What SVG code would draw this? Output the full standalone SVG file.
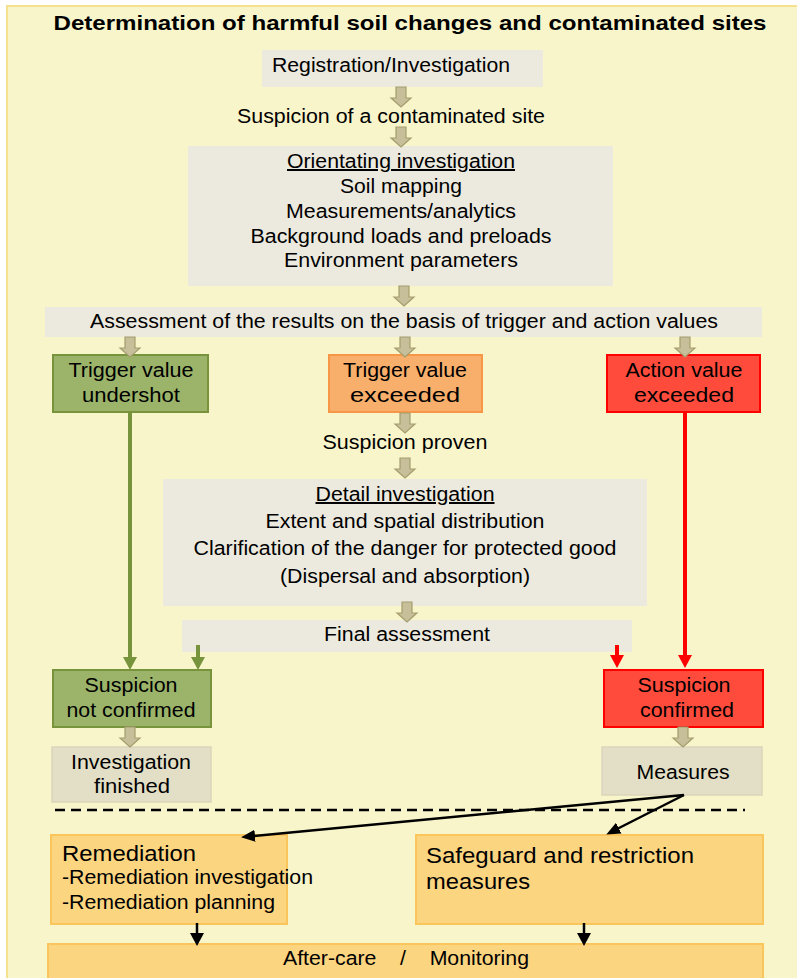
<svg xmlns="http://www.w3.org/2000/svg" width="797" height="978" viewBox="0 0 797 978">
<defs>
<style>
text{font-family:"Liberation Sans",Arial,sans-serif;font-size:20px;fill:#000;}
.c{text-anchor:middle;}
.t{font-weight:bold;font-size:21px;}
.big{font-size:22px;}
.u{text-decoration:underline;}
.gray{fill:#ECEADF;}
.fin{fill:#E3DFC6;stroke:#DAD5BA;stroke-width:1.5;}
.green{fill:#9BB46A;stroke:#77933C;stroke-width:2;}
.orange{fill:#F7AF6B;stroke:#F79646;stroke-width:2;}
.red{fill:#FF4B3C;stroke:#FF0000;stroke-width:2;}
.peach{fill:#FCD581;stroke:#FAC65C;stroke-width:2;}
.blk{fill:#C6BF99;stroke:#A59D6E;stroke-width:1.2;}
.gl{stroke:#77933C;stroke-width:4;fill:none;}
.rl{stroke:#FF0000;stroke-width:4;fill:none;}
.bl{stroke:#000;stroke-width:2.5;fill:none;}
</style>
<path id="ka" class="blk" d="M-5,0 H5 V11 H10 L0,20 L-10,11 H-5 Z"/>
<marker id="mg" markerWidth="16" markerHeight="16" refX="2" refY="8" orient="auto" markerUnits="userSpaceOnUse"><path d="M0,1 L13,8 L0,15 Z" fill="#77933C"/></marker>
<marker id="mr" markerWidth="16" markerHeight="16" refX="2" refY="8" orient="auto" markerUnits="userSpaceOnUse"><path d="M0,1 L13,8 L0,15 Z" fill="#FF0000"/></marker>
<marker id="mb" markerWidth="18" markerHeight="14" refX="2" refY="7" orient="auto" markerUnits="userSpaceOnUse"><path d="M0,1 L14,7 L0,13 Z" fill="#000"/></marker>
<marker id="md" markerWidth="16" markerHeight="16" refX="2" refY="7" orient="auto" markerUnits="userSpaceOnUse"><path d="M0,0 L13,7 L0,14 Z" fill="#000"/></marker>
</defs>

<rect id="frame" x="7" y="6" width="800" height="980" fill="#F8F5CB" stroke="#F6E28E" stroke-width="2"/>
<text class="c t" x="410" y="30" textLength="713" lengthAdjust="spacingAndGlyphs">Determination of harmful soil changes and contaminated sites</text>

<g id="registration">
<rect class="gray" x="262" y="50" width="281" height="37"/>
<text class="c" x="391" y="72" textLength="238" lengthAdjust="spacingAndGlyphs">Registration/Investigation</text>
</g>
<g id="suspicion-site">
<text class="c" x="391" y="123" textLength="308" lengthAdjust="spacingAndGlyphs">Suspicion of a contaminated site</text>
</g>
<g id="orientating">
<rect class="gray" x="188" y="146" width="425" height="140"/>
<text class="c u" x="401" y="168" textLength="228" lengthAdjust="spacingAndGlyphs">Orientating investigation</text>
<text class="c" x="401" y="193" textLength="122" lengthAdjust="spacingAndGlyphs">Soil mapping</text>
<text class="c" x="401" y="218" textLength="230" lengthAdjust="spacingAndGlyphs">Measurements/analytics</text>
<text class="c" x="401" y="243" textLength="301" lengthAdjust="spacingAndGlyphs">Background loads and preloads</text>
<text class="c" x="401" y="267" textLength="234" lengthAdjust="spacingAndGlyphs">Environment parameters</text>
</g>
<g id="assessment">
<rect class="gray" x="45" y="307" width="717" height="30"/>
<text class="c" x="404" y="328" textLength="628" lengthAdjust="spacingAndGlyphs">Assessment of the results on the basis of trigger and action values</text>
</g>
<g id="trigger-undershot">
<rect class="green" x="53" y="355" width="155" height="57"/>
<text class="c" x="131" y="377" textLength="125" lengthAdjust="spacingAndGlyphs">Trigger value</text>
<text class="c" x="131" y="402" textLength="98" lengthAdjust="spacingAndGlyphs">undershot</text>
</g>
<g id="trigger-exceeded">
<rect class="orange" x="329" y="355" width="153" height="57"/>
<text class="c" x="405" y="377" textLength="124" lengthAdjust="spacingAndGlyphs">Trigger value</text>
<text class="c" x="405" y="402" textLength="110" lengthAdjust="spacingAndGlyphs">exceeded</text>
</g>
<g id="action-exceeded">
<rect class="red" x="607" y="355" width="153" height="57"/>
<text class="c" x="684" y="377" textLength="117" lengthAdjust="spacingAndGlyphs">Action value</text>
<text class="c" x="684" y="402" textLength="100" lengthAdjust="spacingAndGlyphs">exceeded</text>
</g>
<g id="suspicion-proven">
<text class="c" x="405" y="449" textLength="165" lengthAdjust="spacingAndGlyphs">Suspicion proven</text>
</g>
<g id="detail">
<rect class="gray" x="163" y="479" width="484" height="127"/>
<text class="c u" x="405" y="501" textLength="179" lengthAdjust="spacingAndGlyphs">Detail investigation</text>
<text class="c" x="405" y="528" textLength="279" lengthAdjust="spacingAndGlyphs">Extent and spatial distribution</text>
<text class="c" x="405" y="555" textLength="423" lengthAdjust="spacingAndGlyphs">Clarification of the danger for protected good</text>
<text class="c" x="405" y="583" textLength="250" lengthAdjust="spacingAndGlyphs">(Dispersal and absorption)</text>
</g>
<g id="final">
<rect class="gray" x="182" y="620" width="450" height="32"/>
<text class="c" x="407" y="641" textLength="166" lengthAdjust="spacingAndGlyphs">Final assessment</text>
</g>
<g id="not-confirmed">
<rect class="green" x="53" y="670" width="158" height="57"/>
<text class="c" x="131" y="692" textLength="93" lengthAdjust="spacingAndGlyphs">Suspicion</text>
<text class="c" x="131" y="717" textLength="129" lengthAdjust="spacingAndGlyphs">not confirmed</text>
</g>
<g id="confirmed">
<rect class="red" x="604" y="670" width="159" height="57"/>
<text class="c" x="684" y="692" textLength="93" lengthAdjust="spacingAndGlyphs">Suspicion</text>
<text class="c" x="687" y="717" textLength="94" lengthAdjust="spacingAndGlyphs">confirmed</text>
</g>
<g id="investigation-finished">
<rect class="fin" x="52" y="747" width="159" height="55"/>
<text class="c" x="131" y="769" textLength="120" lengthAdjust="spacingAndGlyphs">Investigation</text>
<text class="c" x="132" y="793" textLength="76" lengthAdjust="spacingAndGlyphs">finished</text>
</g>
<g id="measures">
<rect class="fin" x="602" y="747" width="160" height="48"/>
<text class="c" x="683" y="779" textLength="93" lengthAdjust="spacingAndGlyphs">Measures</text>
</g>
<g id="remediation">
<rect class="peach" x="51" y="835" width="236" height="89"/>
<text class="big" x="62" y="861" textLength="134" lengthAdjust="spacingAndGlyphs">Remediation</text>
<text x="62" y="884" textLength="251" lengthAdjust="spacingAndGlyphs">-Remediation investigation</text>
<text x="62" y="909" textLength="213" lengthAdjust="spacingAndGlyphs">-Remediation planning</text>
</g>
<g id="safeguard">
<rect class="peach" x="416" y="835" width="347" height="89"/>
<text class="big" x="426" y="863" textLength="268" lengthAdjust="spacingAndGlyphs">Safeguard and restriction</text>
<text class="big" x="426" y="889" textLength="104" lengthAdjust="spacingAndGlyphs">measures</text>
</g>
<g id="aftercare">
<rect class="peach" x="48" y="944" width="715" height="40"/>
<text class="c" x="406" y="965" xml:space="preserve" textLength="246" lengthAdjust="spacingAndGlyphs">After-care    /    Monitoring</text>
</g>

<g id="connectors">
<use href="#ka" x="401" y="87"/>
<use href="#ka" x="401" y="127"/>
<use href="#ka" x="404" y="286"/>
<use href="#ka" x="130" y="337"/>
<use href="#ka" x="405" y="337"/>
<use href="#ka" x="685" y="337"/>
<use href="#ka" x="405" y="413"/>
<use href="#ka" x="405" y="458"/>
<use href="#ka" x="407" y="602"/>
<use href="#ka" x="130" y="727"/>
<use href="#ka" x="683" y="727"/>
<line class="gl" x1="130" y1="413" x2="130" y2="659" marker-end="url(#mg)"/>
<line class="gl" x1="198" y1="645" x2="198" y2="659" marker-end="url(#mg)"/>
<line class="rl" x1="685" y1="413" x2="685" y2="657" marker-end="url(#mr)"/>
<line class="rl" x1="617" y1="645" x2="617" y2="657" marker-end="url(#mr)"/>
<line x1="55" y1="810" x2="745" y2="810" stroke="#000" stroke-width="2.5" stroke-dasharray="10,6"/>
<line class="bl" x1="684" y1="795" x2="253" y2="836" marker-end="url(#mb)"/>
<line class="bl" x1="684" y1="795" x2="617" y2="829" marker-end="url(#mb)"/>
<line class="bl" x1="197" y1="923" x2="197" y2="935" stroke-width="3" marker-end="url(#md)"/>
<line class="bl" x1="584" y1="923" x2="584" y2="935" stroke-width="3" marker-end="url(#md)"/>
</g>
</svg>
